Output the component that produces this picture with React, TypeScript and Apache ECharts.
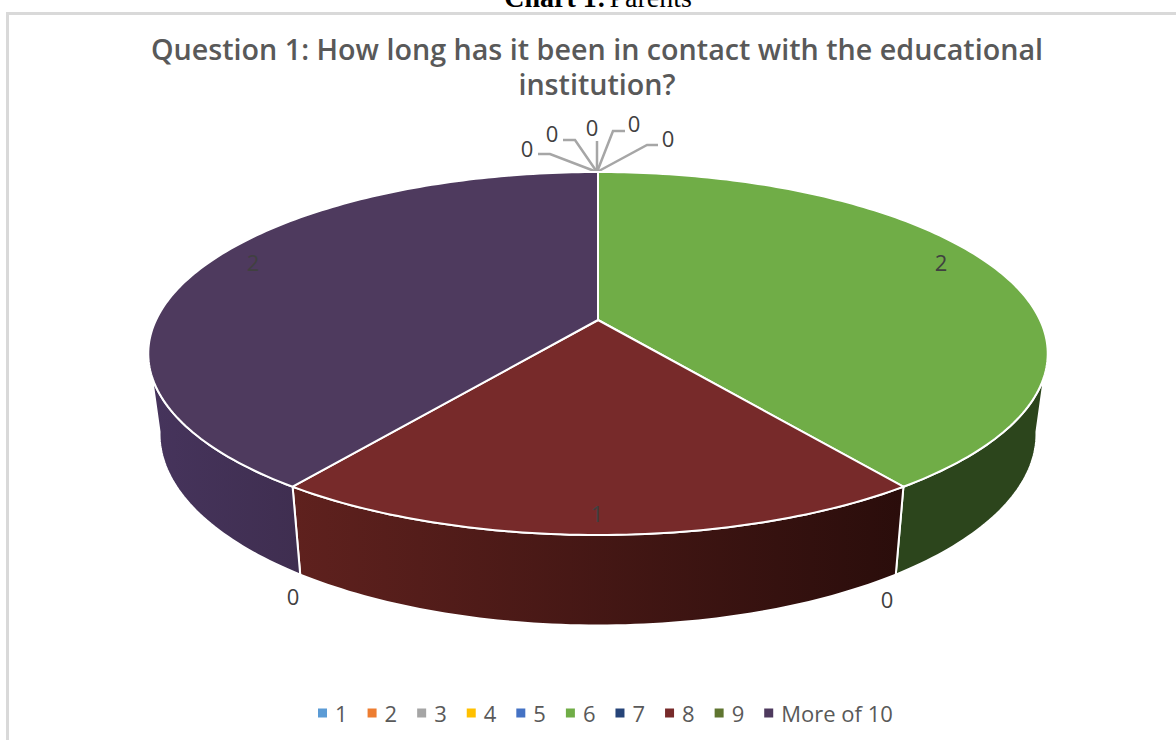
import React, { useEffect, useRef } from "react";
import * as echarts from "echarts";

// ---- data ----
const categories = ["1", "2", "3", "4", "5", "6", "7", "8", "9", "More of 10"];
const counts = [0, 0, 0, 0, 0, 2, 0, 1, 0, 2];
const chartTitle = "Question 1: How long has it been in contact with the educational\ninstitution?";

// ---- styles ----
const topColors = ["#5b9bd5", "#ed7d31", "#a5a5a5", "#ffc000", "#4472c4", "#70ad47", "#264478", "#772a2a", "#5f7530", "#4e3a5e"];
const wallStops: [string, string][] = [
  ["#2e4d69", "#2e4d69"], ["#7a3f19", "#7a3f19"], ["#555", "#555"], ["#806000", "#806000"], ["#223962", "#223962"],
  ["#2c451c", "#2c451c"], ["#132239", "#132239"], ["#5f211e", "#2a0d0b"], ["#303b18", "#303b18"], ["#46345c", "#3f2e50"],
];
const labelFont = "500 22px 'Open Sans'";

// ---- label layout ----
const labelAt: [number, number][] = [
  [527, 148], [552, 133], [592, 127], [634, 123], [668, 138],
  [941, 262], [887, 599], [597, 513], [293, 596], [253, 262],
];
const leaders: ([number, number][] | null)[] = [
  [[597, 172], [550, 154], [538, 154]],
  [[597, 172], [575, 140], [563, 140]],
  [[597, 172], [597, 141]],
  [[597, 172], [613, 131], [625, 131]],
  [[597, 172], [647, 145], [658, 145]],
  null, null, null, null, null,
];

// ---- pie geometry (projective map of a unit circle) ----
const CX = 598;
const CY = 320;
const SX = 442;
const AY = 175.3;
const K = -0.1846;
const BASE_X = 0.975;
const BASE_Y = 1.056;
const BASE_CY = 398.5;
const FRONT_FROM = 100;
const FRONT_TO = 260;

const rim = (deg: number, fx = 1, fy = 1, cy = CY): [number, number] => {
  const a = (deg * Math.PI) / 180;
  const u = Math.sin(a);
  const v = -Math.cos(a);
  const d = 1 + K * v;
  return [CX + (fx * SX * u) / d, cy + (fy * AY * v) / d];
};

const total = counts.reduce((s, c) => s + c, 0);

const arcDegs = (from: number, to: number) => {
  const out: number[] = [];
  const n = Math.max(1, Math.ceil(to - from));
  for (let i = 0; i <= n; i++) out.push(from + ((to - from) * i) / n);
  return out;
};

const makeRenderItem = (index: number) => (_params: any, api: any) => {
  const value = api.value(0);
  const start = (counts.slice(0, index).reduce((s, c) => s + c, 0) / total) * 360;
  const end = start + (value / total) * 360;
  const children: any[] = [];

  if (value > 0) {
    const w0 = Math.max(start, FRONT_FROM);
    const w1 = Math.min(end, FRONT_TO);
    if (w1 > w0) {
      const degs = arcDegs(w0, w1);
      const pts = [
        ...degs.map((d) => rim(d)),
        ...degs.slice().reverse().map((d) => rim(d, BASE_X, BASE_Y, BASE_CY)),
      ];
      children.push({
        type: "polygon",
        shape: { points: pts },
        style: {
          fill: {
            type: "linear", x: 0, y: 0, x2: 1, y2: 0,
            colorStops: [
              { offset: 0, color: wallStops[index][0] },
              { offset: 1, color: wallStops[index][1] },
            ],
          },
          stroke: "#ffffff",
          lineWidth: 2,
        },
      });
    }
    const topPts = [[CX, CY], ...arcDegs(start, end).map((d) => rim(d))];
    children.push({
      type: "polygon",
      shape: { points: topPts },
      style: { fill: topColors[index], stroke: "#ffffff", lineWidth: 2 },
    });
  }

  const leader = leaders[index];
  if (leader) {
    children.push({
      type: "polyline",
      shape: { points: leader },
      style: { fill: "none", stroke: "#a6a6a6", lineWidth: 2.5 },
    });
  }
  children.push({
    type: "text",
    z2: 10,
    style: {
      text: String(value),
      x: labelAt[index][0],
      y: labelAt[index][1],
      align: "center",
      verticalAlign: "middle",
      font: labelFont,
      fill: "#404040",
    },
  });
  return { type: "group", children };
};

export default function App() {
  const ref = useRef<HTMLDivElement>(null);
  useEffect(() => {
    const chart = echarts.init(ref.current!, undefined, { renderer: "svg" });
    chart.setOption({
      animation: false,
      backgroundColor: "#ffffff",
      title: {
        text: chartTitle,
        left: 592,
        top: 26,
        textAlign: "center",
        textStyle: {
          fontFamily: "'Open Sans'",
          fontSize: 28.7,
          fontWeight: 600,
          color: "#595959",
          lineHeight: 35,
        },
      },
      legend: {
        data: categories,
        left: 313,
        top: 697,
        icon: "rect",
        itemWidth: 9,
        itemHeight: 9,
        itemGap: 20,
        selectedMode: false,
        textStyle: {
          fontFamily: "'Open Sans'",
          fontSize: 22,
          color: "#595959",
          padding: [0, 0, 0, 3],
        },
      },
      graphic: [
        { type: "rect", silent: true, shape: { x: 6, y: 12, width: 1176, height: 3 }, style: { fill: "#d9d9d9" } },
        { type: "rect", silent: true, shape: { x: 6, y: 12, width: 3, height: 740 }, style: { fill: "#d9d9d9" } },
        {
          type: "text",
          silent: true,
          style: {
            x: 598,
            y: 11,
            align: "center",
            verticalAlign: "bottom",
            text: "{b|Chart 1:} {r|Parents}",
            rich: {
              b: { font: "bold 28px 'Liberation Serif'", fill: "#000000" },
              r: { font: "28px 'Liberation Serif'", fill: "#000000" },
            },
          },
        },
      ],
      series: categories.map((name, i) => ({
        type: "custom",
        name,
        coordinateSystem: "none",
        silent: true,
        itemStyle: { color: topColors[i] },
        data: [[counts[i]]],
        renderItem: makeRenderItem(i),
      })),
    });
    return () => chart.dispose();
  }, []);
  return <div ref={ref} style={{ position: "absolute", left: 0, top: 0, width: 1176, height: 740 }} />;
}
